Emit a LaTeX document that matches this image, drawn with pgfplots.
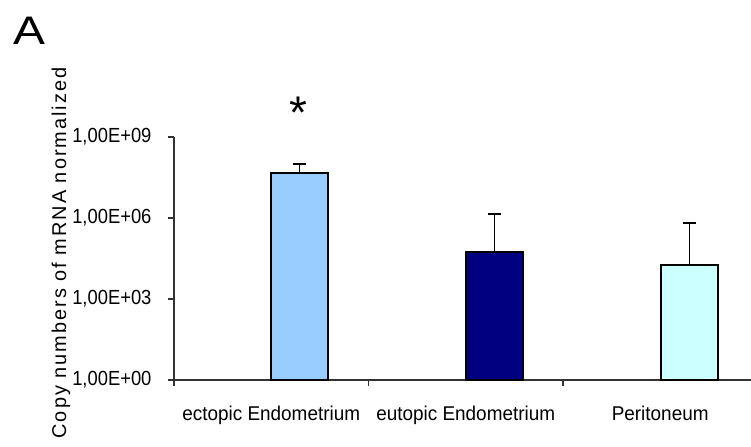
\documentclass[border=0pt]{standalone}
\usepackage{pgfplots}
\pgfplotsset{compat=1.18}
\usepackage{fontspec}
\setmainfont{Liberation Sans}
\newfontfamily\narrowfont[FakeStretch=0.95]{Liberation Sans}
\newfontfamily\tickfont[FakeStretch=0.9]{Liberation Sans}
\newfontfamily\wideAfont[FakeStretch=1.2]{Liberation Sans}
\newfontfamily\spacedfont[LetterSpace=10]{Liberation Sans}
\definecolor{ecto}{HTML}{99CCFF}
\definecolor{euto}{HTML}{000080}
\definecolor{peri}{HTML}{CCFFFF}
\definecolor{axisgray}{HTML}{333333}
\begin{document}
\begin{tikzpicture}[x=1bp,y=1bp]
\useasboundingbox (-174,-67) rectangle (577,380);
\begin{axis}[
  at={(0,0)}, anchor=south west,
  scale only axis, width=577bp, height=243bp,
  xmin=0, xmax=2.967,
  ymode=log, ymin=1, ymax=1e9,
  axis x line*=bottom, axis y line*=left,
  axis line style={axisgray, line width=1.2bp, -},
  tick align=outside,
  ytick={1,1e3,1e6,1e9},
  yticklabels={{1,00E+00},{1,00E+03},{1,00E+06},{1,00E+09}},
  yminorticks=false,
  xtick={0.5,1.5,2.5},
  xticklabels={ectopic Endometrium, eutopic Endometrium, Peritoneum},
  minor xtick={0,1,2},
  major x tick style={draw=none},
  major tick length=6bp, minor tick length=6bp,
  tick style={axisgray, line width=1.2bp},
  x tick label style={font=\narrowfont\fontsize{20}{22}\selectfont, yshift=-17bp},
  y tick label style={font=\tickfont\fontsize{20.5}{24}\selectfont, xshift=-13bp},
  ybar, bar width=57bp, bar shift=0pt,
  clip=false,
]
\addplot[fill=ecto, draw=black, line width=1.6bp,
  error bars/.cd, y dir=plus, y explicit,
  error bar style={black, line width=1.5bp},
  error mark options={rotate=90, mark size=6.5bp, line width=1.8bp, black}]
  coordinates {(0.645,4.64e7) +- (0,5.4e7)};
\addplot[fill=euto, draw=black, line width=1.6bp,
  error bars/.cd, y dir=plus, y explicit,
  error bar style={black, line width=1.5bp},
  error mark options={rotate=90, mark size=6.5bp, line width=1.8bp, black}]
  coordinates {(1.647,5.5e4) +- (0,1.35e6)};
\addplot[fill=peri, draw=black, line width=1.6bp,
  error bars/.cd, y dir=plus, y explicit,
  error bar style={black, line width=1.5bp},
  error mark options={rotate=90, mark size=6.5bp, line width=1.8bp, black}]
  coordinates {(2.65,1.82e4) +- (0,6.35e5)};
\end{axis}
\node[font=\wideAfont\fontsize{40}{48}\selectfont, anchor=base west, inner sep=0] at (-161,335) {A};
\node[font=\fontsize{46}{50}\selectfont, anchor=north, inner sep=0] at (124.5,283) {*};
\node[rotate=90, font=\spacedfont\fontsize{20}{24}\selectfont] at (-113,127) {Copy numbers of mRNA normalized};
\end{tikzpicture}
\end{document}
